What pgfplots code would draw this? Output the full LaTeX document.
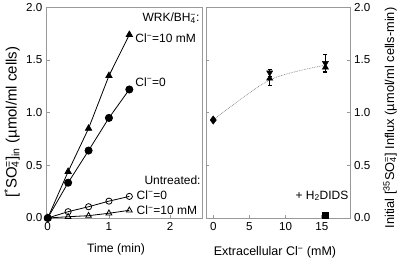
\documentclass[border=0pt]{standalone}
\usepackage{pgfplots}
\pgfplotsset{compat=1.18}
\usepackage{fontspec}
\setmainfont{Liberation Sans}
\begin{document}
\fontsize{12bp}{14bp}\selectfont
\begin{tikzpicture}
\path[use as bounding box] (0,0) rectangle (400bp,262bp);
\pgfplotsset{
  myaxis/.style={
    scale only axis, anchor=south west, height=210.7bp,
    axis line style={gray!80, line width=0.7bp},
    tick style={gray!80, line width=0.6bp},
    tick align=inside, major tick length=3bp,
    ymin=0, ymax=2,
    ytick={0,0.5,1,1.5,2}, yticklabels={0.0,0.5,1.0,1.5,2.0},
    xtick pos=bottom,
    /pgf/number format/assume math mode=true,
    every tick label/.append style={font=\fontsize{11.6bp}{13bp}\selectfont},
    clip=false,
  },
}
% Left panel
\begin{axis}[myaxis,
  at={(46.5bp,44bp)}, width=155.5bp,
  xmin=-0.02, xmax=2.52, xtick={0,1,2},
  ytick pos=left,
  xlabel={Time (min)},
  xlabel style={font=\fontsize{12.2bp}{14bp}\selectfont, at={(axis description cs:0.447,-0.147)}, anchor=center},
  ylabel={[\textsuperscript{*}SO\rlap{\textsubscript{4}}\textsuperscript{=}]\textsubscript{in} (µmol/ml cells)},
  ylabel style={font=\fontsize{15bp}{17bp}\selectfont, at={(axis description cs:-0.222,0.455)}, anchor=center, rotate=0},
]
\addplot[black, line width=0.8bp, mark=triangle*, mark size=3.6bp] coordinates {
  (0,0) (0.333,0.44) (0.667,0.85) (1.0,1.35) (1.333,1.74)};
\addplot[black, line width=0.8bp, mark=*, mark size=3.6bp] coordinates {
  (0,0) (0.333,0.335) (0.667,0.64) (1.0,0.95) (1.333,1.22)};
\addplot[black, line width=0.8bp, mark=o, mark size=3.1bp, mark options={fill=white}] coordinates {
  (0,0) (0.333,0.06) (0.667,0.107) (1.0,0.16) (1.333,0.205)};
\addplot[black, line width=0.8bp, mark=triangle, mark size=3.3bp, mark options={fill=white}] coordinates {
  (0,0) (0.333,0.012) (0.667,0.022) (1.0,0.045) (1.333,0.073)};
\addplot[black, mark=*, mark size=2.6bp, only marks] coordinates {(0,0)};
\node[anchor=east, inner sep=0pt] at (axis cs:2.48,1.895) {WRK/BH\rlap{\textsubscript{4}}\textsuperscript{−}:};
\node[anchor=west, inner sep=0pt] at (axis cs:1.43,1.705) {Cl\textsuperscript{−}=10 mM};
\node[anchor=west, inner sep=0pt] at (axis cs:1.43,1.293) {Cl\textsuperscript{−}=0};
\node[anchor=east, inner sep=0pt] at (axis cs:2.5,0.36) {Untreated:};
\node[anchor=west, inner sep=0pt] at (axis cs:1.45,0.218) {Cl\textsuperscript{−}=0};
\node[anchor=west, inner sep=0pt] at (axis cs:1.45,0.07) {Cl\textsuperscript{−}=10 mM};
\end{axis}
% Right panel
\begin{axis}[myaxis,
  at={(206bp,44bp)}, width=144bp,
  xmin=-1, xmax=18.9, xtick={0,5,10,15},
  ytick pos=both, yticklabel pos=right,
  xlabel={Extracellular Cl\textsuperscript{−} (mM)},
  xlabel style={font=\fontsize{12.5bp}{14bp}\selectfont, at={(axis description cs:0.479,-0.165)}, anchor=center},
  ylabel={Initial [\textsuperscript{35}SO\rlap{\textsubscript{4}}\textsuperscript{=}] Influx (µmol/ml cells-min)},
  ylabel style={font=\fontsize{12.8bp}{15bp}\selectfont, at={(axis description cs:1.278,0.475)}, anchor=center, rotate=0},
]
\addplot[gray, densely dotted, line width=0.7bp, smooth] coordinates {
  (0,0.93) (7.8,1.31) (15.5,1.45)};
\addplot[black, only marks, mark=triangle*, mark size=3.6bp,
  error bars/.cd, y dir=both, y explicit,
  error bar style={black, line width=0.5bp},
  error mark options={rotate=90, mark size=2bp, black, line width=0.5bp}] coordinates {
  (7.8,1.325) +- (0,0.065)
  (15.5,1.43) +- (0,0.05)};
\addplot[black, only marks, mark=triangle*, mark size=3.6bp, mark options={rotate=180},
  error bars/.cd, y dir=both, y explicit,
  error bar style={black, line width=0.5bp},
  error mark options={rotate=90, mark size=2bp, black, line width=0.5bp}] coordinates {
  (7.8,1.38) +- (0,0.03)
  (15.5,1.47) +- (0,0.08)};
\addplot[black, only marks, mark=diamond*, mark size=4.2bp] coordinates {(0,0.93)};
\addplot[black, only marks, mark=square*, mark size=2.8bp] coordinates {(15.5,0.025)};
\node[anchor=east, inner sep=0pt] at (axis cs:18.7,0.21) {+ H\textsubscript{2}DIDS};
\end{axis}
\end{tikzpicture}
\end{document}
